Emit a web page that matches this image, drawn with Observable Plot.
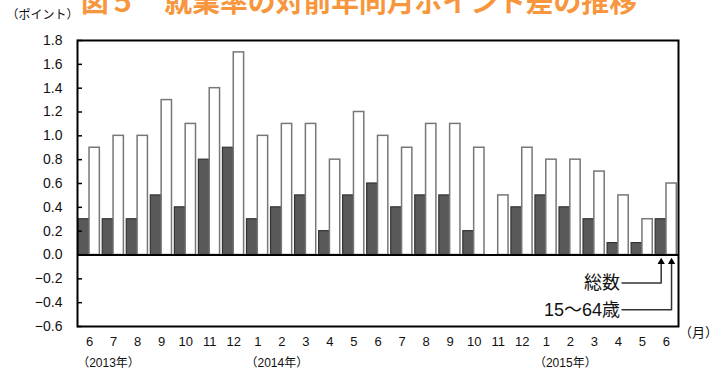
<!DOCTYPE html>
<html>
<head>
<meta charset="utf-8">
<script src="https://cdn.jsdelivr.net/npm/d3@7"></script>
<script src="https://cdn.jsdelivr.net/npm/@observablehq/plot@0.6"></script>
<style>
  html, body { margin: 0; padding: 0; background: #fff; overflow: hidden; }
  #wrap { position: relative; width: 724px; height: 374px; overflow: hidden; }
  #title { position: absolute; left: 81px; top: -13px; z-index: 2; white-space: nowrap;
           font: bold 27.8px "Noto Sans CJK JP", sans-serif; line-height: 27.8px; color: #F7963C; }
  #chart { position: absolute; left: 0; top: 0; }
</style>
</head>
<body>
<div id="wrap">
  <div id="title">図５　就業率の対前年同月ポイント差の推移</div>
  <div id="chart"></div>
</div>
<script>
// month tick labels, 2013-06 .. 2015-06
const months = ["6","7","8","9","10","11","12","1","2","3","4","5","6","7","8","9","10","11","12","1","2","3","4","5","6"];
// 総数 (dark bars)
const total = [0.3,0.3,0.3,0.5,0.4,0.8,0.9, 0.3,0.4,0.5,0.2,0.5,0.6,0.4,0.5,0.5,0.2,0.0,0.4, 0.5,0.4,0.3,0.1,0.1,0.3];
// 15〜64歳 (white bars)
const age1564 = [0.9,1.0,1.0,1.3,1.1,1.4,1.7, 1.0,1.1,1.1,0.8,1.2,1.0,0.9,1.1,1.1,0.9,0.5,0.9, 0.8,0.8,0.7,0.5,0.3,0.6];
// year labels and the month index they sit under
const yearLabels = ["（2013年）","（2014年）","（2015年）"];
const yearIndex = [0, 7, 19];
// y ticks
const yTicks = [-0.6,-0.4,-0.2,0.0,0.2,0.4,0.6,0.8,1.0,1.2,1.4,1.6,1.8];
const seriesNames = ["総数", "15〜64歳"];

const darkRows = total.map((v, i) => ({i, value: v})).filter(d => d.value !== 0);
const whiteRows = age1564.map((v, i) => ({i, value: v})).filter(d => d.value !== 0);
const years = yearLabels.map((label, k) => ({i: yearIndex[k], label}));

const last = months.length - 1;
const legendY = [-0.235, -0.46];
const legendX0 = 22.15;
const targets = [last - 0.22, last + 0.21];
const legendPath = [];
seriesNames.forEach((name, k) => {
  legendPath.push({z: name, x: legendX0, y: legendY[k]});
  legendPath.push({z: name, x: targets[k], y: legendY[k]});
  legendPath.push({z: name, x: targets[k], y: -0.07});
});
const legendText = seriesNames.map((name, k) => ({label: name, y: legendY[k]}));
const heads = seriesNames.map((name, k) => ({x: targets[k], y: -0.058}));

const fmt = d => (Math.abs(d) < 1e-9 ? "0.0" : d.toFixed(1).replace("-", "−"));

const chart = Plot.plot({
  width: 724,
  height: 374,
  marginTop: 40,
  marginBottom: 48,
  marginLeft: 77,
  marginRight: 46,
  style: {fontFamily: '"Liberation Sans", "Noto Sans CJK JP", sans-serif', fontSize: "13px", color: "#111", background: "transparent"},
  x: {domain: [-0.5, last + 0.5], axis: null},
  y: {domain: [-0.6, 1.8], axis: null},
  marks: [
    Plot.rectY(darkRows, {x1: d => d.i - 0.45, x2: d => d.i, y1: 0, y2: "value", fill: "#595959", stroke: "#333", strokeWidth: 1.2}),
    Plot.rectY(whiteRows, {x1: d => d.i, x2: d => d.i + 0.43, y1: 0, y2: "value", fill: "#fff", stroke: "#777", strokeWidth: 1.5}),
    Plot.ruleY([0], {stroke: "#000", strokeWidth: 2}),
    Plot.axisY({ticks: yTicks, tickFormat: fmt, tickSize: -5, tickPadding: 20, fontSize: 14, stroke: "#000", strokeWidth: 1.5}),
    Plot.axisX({ticks: d3.range(months.length), tickFormat: i => months[i], tickSize: 0, tickPadding: 10, fontSize: 13}),
    Plot.text(years, {x: "i", text: "label", frameAnchor: "bottom", textAnchor: "middle", lineAnchor: "middle", dx: 19, dy: 37, fontSize: 12}),
    Plot.text(["（ポイント）"], {frameAnchor: "top-left", textAnchor: "middle", lineAnchor: "middle", dx: -35, dy: -25, fontSize: 12}),
    Plot.text(["（月）"], {frameAnchor: "bottom-right", textAnchor: "middle", lineAnchor: "middle", dx: 20, dy: 6, fontSize: 13}),
    Plot.line(legendPath, {x: "x", y: "y", z: "z", stroke: "#333", strokeWidth: 1.5}),
    Plot.dot(heads, {x: "x", y: "y", symbol: "triangle", r: 2.7, fill: "#000"}),
    Plot.text(legendText, {x: legendX0, y: "y", text: "label", textAnchor: "end", dx: -2, fontSize: 18}),
    Plot.frame({stroke: "#000", strokeWidth: 2})
  ]
});
document.getElementById("chart").appendChild(chart);
</script>
</body>
</html>
